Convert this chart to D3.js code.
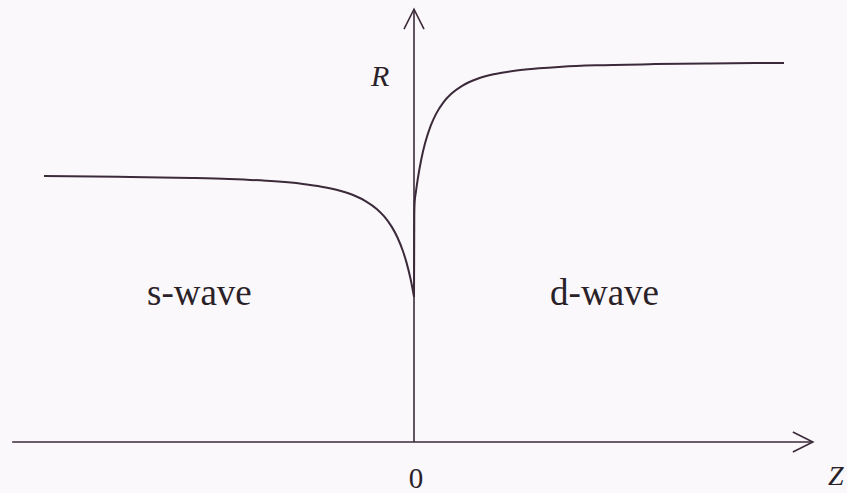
<!DOCTYPE html>
<html>
<head>
<meta charset="utf-8">
<script src="https://cdn.jsdelivr.net/npm/d3@7/dist/d3.min.js"></script>
<style>
  html, body { margin: 0; padding: 0; background: #fbf8fb; }
  svg { display: block; }
</style>
</head>
<body>
<svg id="chart" width="847" height="493"></svg>
<script>
// Reflection coefficient R against barrier strength Z (schematic)
// s-wave branch (Z < 0 side)
const sWaveZ = [-10, -8, -6, -5, -4, -3, -2.5, -2, -1.6, -1.3, -1.0, -0.8, -0.6, -0.45, -0.3, -0.2, -0.1, -0.05, 0];
const sWaveR = [0.6997, 0.6981, 0.6949, 0.6921, 0.6874, 0.6790, 0.6719, 0.6612, 0.6480, 0.6335, 0.6127,
                0.5930, 0.5661, 0.5388, 0.5025, 0.4714, 0.4321, 0.4085, 0.382];
// d-wave branch (Z > 0 side)
const dWaveZ = [0, 0.008, 0.02, 0.05, 0.1, 0.2, 0.3, 0.45, 0.6, 0.8, 1.0, 1.3, 1.7, 2.2, 3, 4, 5, 6.5, 8, 10];
const dWaveR = [0.382, 0.600, 0.6338, 0.6569, 0.6910, 0.7454, 0.7866, 0.8319, 0.8642, 0.8946, 0.9158,
                0.9373, 0.9552, 0.9686, 0.9802, 0.9875, 0.9914, 0.9945, 0.9962, 0.9975];

// Axis extents and labels
const zAxisExtent = [-10.86, 10.78];
const rAxisExtent = [0, 1.139];
const originLabel = "0";
const zLabel = "Z";
const rLabel = "R";
const regionLabels = [
  { text: "s-wave", z: -5.8, r: 0.36 },
  { text: "d-wave", z: 5.15, r: 0.36 }
];

const serif = "'Liberation Serif', 'DejaVu Serif', 'Times New Roman', serif";
const svg = d3.select("#chart");
const ink = "#3b2a3a";
const textInk = "#2a2228";

const x = d3.scaleLinear().domain([-10, 10]).range([44, 784]);
const y = d3.scaleLinear().domain([0, 1]).range([442, 62]);

// Axes
const x0 = x(0), y0 = y(0);
svg.append("line")
  .attr("x1", x(zAxisExtent[0])).attr("x2", x(zAxisExtent[1]))
  .attr("y1", y0).attr("y2", y0)
  .attr("stroke", ink).attr("stroke-width", 1.6);
svg.append("line")
  .attr("x1", x0).attr("x2", x0)
  .attr("y1", y(rAxisExtent[0])).attr("y2", y(rAxisExtent[1]))
  .attr("stroke", ink).attr("stroke-width", 1.6);

// Open arrow heads
const zTip = [x(zAxisExtent[1]), y0];
svg.append("path")
  .attr("d", `M${zTip[0] - 20},${zTip[1] - 10} L${zTip[0]},${zTip[1]} L${zTip[0] - 20},${zTip[1] + 10}`)
  .attr("fill", "none").attr("stroke", ink).attr("stroke-width", 1.6);
const rTip = [x0, y(rAxisExtent[1])];
svg.append("path")
  .attr("d", `M${rTip[0] - 10},${rTip[1] + 20} L${rTip[0]},${rTip[1]} L${rTip[0] + 10},${rTip[1] + 20}`)
  .attr("fill", "none").attr("stroke", ink).attr("stroke-width", 1.6);

// Curves
const line = d3.line()
  .x(d => x(d[0]))
  .y(d => y(d[1]))
  .curve(d3.curveMonotoneX);

svg.append("path")
  .datum(d3.zip(sWaveZ, sWaveR))
  .attr("d", line)
  .attr("fill", "none").attr("stroke", ink).attr("stroke-width", 2);
svg.append("path")
  .datum(d3.zip(dWaveZ, dWaveR))
  .attr("d", line)
  .attr("fill", "none").attr("stroke", ink).attr("stroke-width", 2);

// Labels
svg.append("text")
  .attr("x", x0 + 2).attr("y", 488)
  .attr("text-anchor", "middle")
  .attr("font-family", serif).attr("fill", textInk)
  .attr("font-size", 29)
  .text(originLabel);
svg.append("text")
  .attr("x", 828).attr("y", 485)
  .attr("font-family", serif).attr("fill", textInk)
  .attr("font-size", 28).attr("font-style", "italic")
  .text(zLabel);
svg.append("text")
  .attr("x", 371).attr("y", 86)
  .attr("font-family", serif).attr("fill", textInk)
  .attr("font-size", 30).attr("font-style", "italic")
  .text(rLabel);
svg.selectAll("text.region")
  .data(regionLabels)
  .join("text")
  .attr("class", "region")
  .attr("x", d => x(d.z)).attr("y", d => y(d.r))
  .attr("text-anchor", "middle")
  .attr("font-family", serif).attr("fill", textInk)
  .attr("font-size", 37)
  .text(d => d.text);
</script>
</body>
</html>
